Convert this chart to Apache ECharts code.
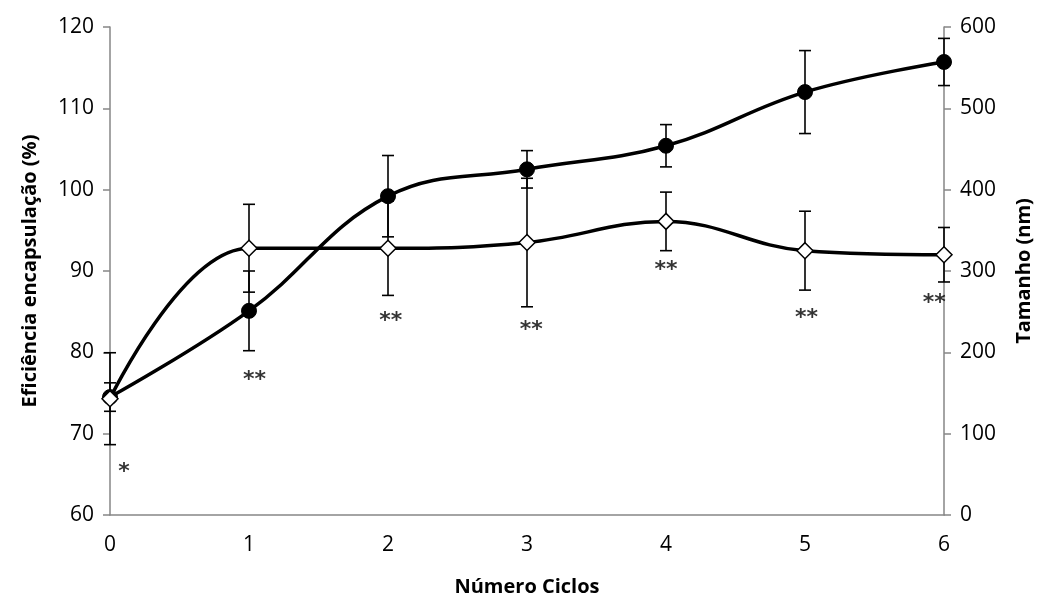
<!DOCTYPE html>
<html>
<head>
<meta charset="utf-8">
<script src="https://cdn.jsdelivr.net/npm/echarts@6/dist/echarts.min.js"></script>
<style>
  html, body { margin: 0; padding: 0; background: #fff; }
  #chart { width: 1049px; height: 598px; }
</style>
</head>
<body>
<div id="chart"></div>
<script>
// number of cycles
const ciclos = [0, 1, 2, 3, 4, 5, 6];
// encapsulation efficiency (%) - diamonds, left axis
const eficiencia = [74.3, 92.8, 92.8, 93.5, 96.1, 92.5, 92.0];
const eficienciaErro = [5.65, 5.4, 5.8, 7.9, 3.6, 4.85, 3.35];
// size (nm) - filled circles, right axis
const tamanho = [145, 251, 392, 425, 454, 520, 557];
const tamanhoErro = [17.5, 49, 50, 23, 26, 51, 29];
// significance marks (x, y on left axis, text)
const marcasX = [0.1, 1.04, 2.02, 3.03, 4.0, 5.01, 5.93];
const marcasY = [65.3, 76.6, 83.8, 82.7, 90.1, 84.2, 86.0];
const marcasTexto = ['*', '**', '**', '**', '**', '**', '**'];

const FONT = 'Open Sans';

function pares(ys) {
  return ciclos.map((x, i) => [x, ys[i]]);
}
function barras(ys, err) {
  return ciclos.map((x, i) => [x, ys[i] - err[i], ys[i] + err[i]]);
}

function desenhaErro(params, api) {
  const x = api.value(0);
  const lo = api.coord([x, api.value(1)]);
  const hi = api.coord([x, api.value(2)]);
  const w = 6;
  const style = { stroke: '#000', lineWidth: 1.6 };
  return {
    type: 'group',
    children: [
      { type: 'line', shape: { x1: lo[0], y1: lo[1], x2: hi[0], y2: hi[1] }, style },
      { type: 'line', shape: { x1: hi[0] - w, y1: hi[1], x2: hi[0] + w, y2: hi[1] }, style },
      { type: 'line', shape: { x1: lo[0] - w, y1: lo[1], x2: lo[0] + w, y2: lo[1] }, style }
    ]
  };
}

const axisLine = { show: true, lineStyle: { color: '#868686', width: 1.5 } };
const tituloEstilo = { fontFamily: FONT, fontWeight: 'bold', fontSize: 20, color: '#000' };
const rotuloEstilo = { fontFamily: FONT, fontSize: 21, color: '#000' };

const option = {
  animation: false,
  backgroundColor: '#fff',
  textStyle: { fontFamily: FONT },
  grid: { left: 110, right: 105, top: 27, bottom: 83, containLabel: false, outerBoundsMode: 'none' },
  xAxis: {
    type: 'value', min: 0, max: 6, interval: 1,
    name: 'Número Ciclos', nameLocation: 'middle', nameGap: 62,
    nameTextStyle: tituloEstilo,
    axisLine: axisLine,
    axisTick: { show: false },
    splitLine: { show: false },
    axisLabel: Object.assign({ margin: 20 }, rotuloEstilo)
  },
  yAxis: [
    {
      type: 'value', min: 60, max: 120, interval: 10, position: 'left',
      name: 'Eficiência encapsulação (%)', nameLocation: 'middle', nameGap: 70, nameRotate: 90,
      nameTextStyle: tituloEstilo,
      axisLine: axisLine,
      axisTick: { show: true, length: 7, lineStyle: { color: '#868686', width: 1.5 } },
      splitLine: { show: false },
      axisLabel: Object.assign({ margin: 16 }, rotuloEstilo)
    },
    {
      type: 'value', min: 0, max: 600, interval: 100, position: 'right',
      name: 'Tamanho (nm)', nameLocation: 'middle', nameGap: 70, nameRotate: 90,
      nameTextStyle: tituloEstilo,
      axisLine: axisLine,
      axisTick: { show: true, length: 7, lineStyle: { color: '#868686', width: 1.5 } },
      splitLine: { show: false },
      axisLabel: Object.assign({ margin: 16 }, rotuloEstilo)
    }
  ],
  series: [
    {
      type: 'custom', yAxisIndex: 0, z: 1,
      renderItem: desenhaErro,
      data: barras(eficiencia, eficienciaErro)
    },
    {
      type: 'custom', yAxisIndex: 1, z: 1,
      renderItem: desenhaErro,
      data: barras(tamanho, tamanhoErro)
    },
    {
      name: 'Tamanho', type: 'line', yAxisIndex: 1, z: 3,
      smooth: 0.4,
      data: pares(tamanho),
      symbol: 'circle', symbolSize: 15,
      lineStyle: { color: '#000', width: 3.5 },
      itemStyle: { color: '#000', borderColor: '#000' }
    },
    {
      name: 'Eficiência', type: 'line', yAxisIndex: 0, z: 4,
      smooth: 0.4,
      data: pares(eficiencia),
      symbol: 'diamond', symbolSize: 16,
      lineStyle: { color: '#000', width: 3.5 },
      itemStyle: { color: '#fff', borderColor: '#000', borderWidth: 1.5 }
    },
    {
      type: 'scatter', yAxisIndex: 0, z: 5,
      symbolSize: 0,
      data: marcasX.map((x, i) => ({ value: [x, marcasY[i]], label: { formatter: marcasTexto[i] } })),
      label: {
        show: true, position: 'inside',
        fontFamily: 'DejaVu Sans', fontWeight: 'bold', fontSize: 22, color: '#000'
      }
    }
  ]
};

const chart = echarts.init(document.getElementById('chart'), null, { renderer: 'canvas' });
chart.setOption(option);
</script>
</body>
</html>
